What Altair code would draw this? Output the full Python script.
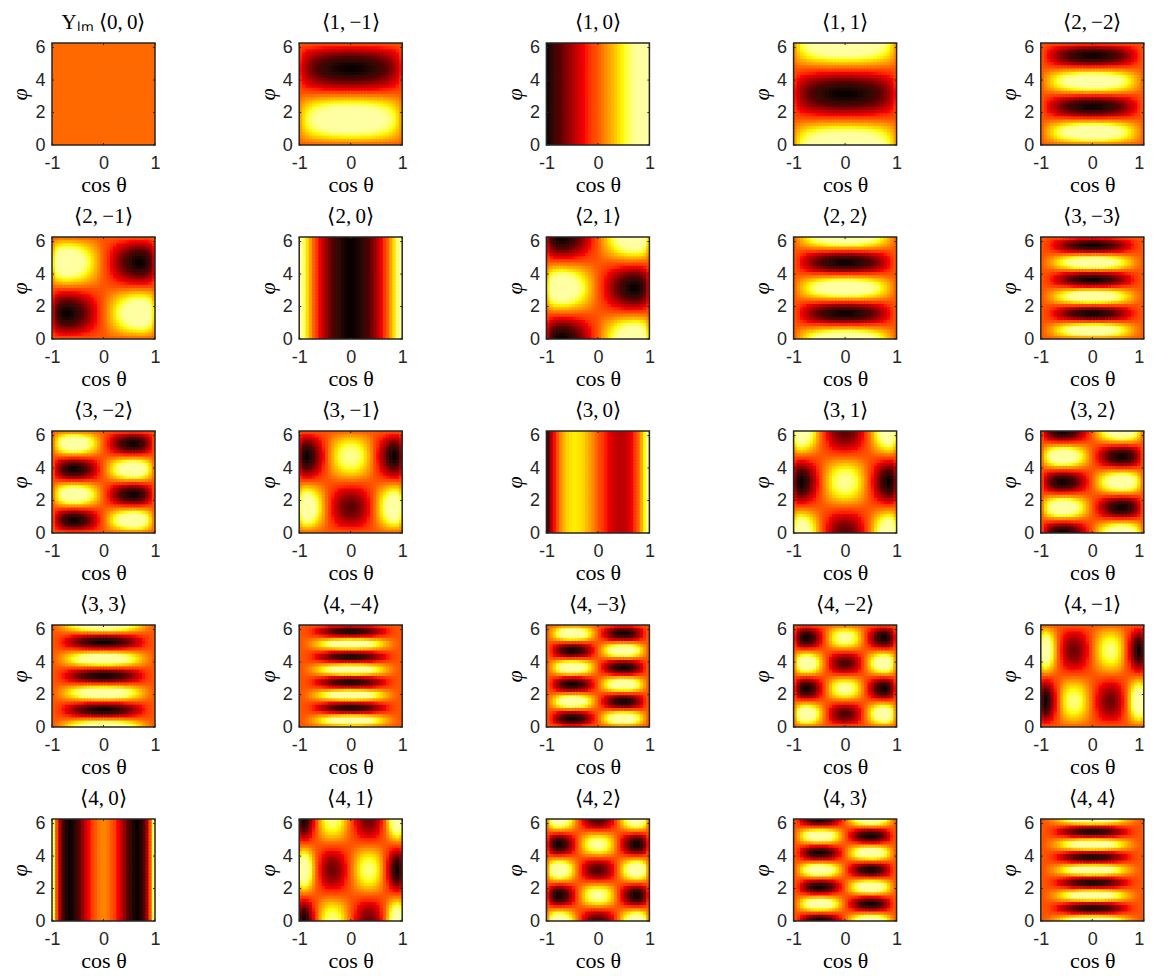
import altair as alt
import pandas as pd

alt.data_transformers.disable_max_rows()

# Panel order and labels
panels = [(0,0),(1,-1),(1,0),(1,1),(2,-2),(2,-1),(2,0),(2,1),(2,2),(3,-3),(3,-2),(3,-1),(3,0),
          (3,1),(3,2),(3,3),(4,-4),(4,-3),(4,-2),(4,-1),(4,0),(4,1),(4,2),(4,3),(4,4)]

# Estimated cos(theta) profiles, positive half (centre to edge), 16 cells, colour-normalised to [-1, 1]
theta_half = {
 (0,0): [.05]*16,
 (1,0): [.03,.09,.16,.22,.28,.34,.41,.47,.53,.59,.66,.72,.78,.84,.91,.97],
 (1,1): [1.0,1.0,.99,.98,.96,.94,.91,.88,.85,.80,.75,.70,.62,.54,.42,.25],
 (2,0): [-1.0,-.98,-.95,-.90,-.84,-.76,-.67,-.56,-.44,-.30,-.14,.03,.22,.42,.64,.88],
 (2,1): [.06,.19,.31,.43,.54,.65,.74,.83,.90,.96,.99,1.0,.98,.91,.77,.48],
 (2,2): [1.0,.99,.98,.95,.92,.88,.84,.78,.72,.65,.57,.48,.39,.29,.18,.06],
 (3,0): [-.05,-.14,-.22,-.30,-.37,-.41,-.44,-.45,-.42,-.37,-.28,-.15,.02,.24,.50,.82],
 (3,1): [-.72,-.69,-.63,-.54,-.42,-.28,-.12,.06,.25,.45,.63,.80,.93,1.0,.95,.66],
 (3,2): [.08,.24,.40,.54,.67,.79,.88,.95,.99,1.0,.97,.90,.79,.63,.42,.15],
 (3,3): [1.0,.99,.96,.93,.88,.83,.76,.69,.61,.52,.43,.34,.24,.15,.08,.02],
 (4,0): [.12,.08,.00,-.11,-.25,-.41,-.57,-.73,-.87,-.96,-1.0,-.95,-.80,-.51,-.06,.59],
 (4,1): [-.09,-.26,-.41,-.54,-.63,-.66,-.65,-.57,-.44,-.24,.01,.29,.59,.85,1.0,.81],
 (4,2): [-.77,-.72,-.63,-.49,-.32,-.12,.10,.33,.54,.74,.89,.98,.99,.89,.66,.27],
 (4,3): [.10,.28,.46,.63,.77,.88,.95,.99,.99,.95,.87,.74,.58,.40,.21,.05],
 (4,4): [1.0,.98,.95,.91,.85,.78,.70,.61,.52,.42,.32,.23,.15,.08,.03,.00],
}

# Estimated phi profiles, bottom to top, 32 cells
phi_profile = {
 0: [1.0]*32,
 1: [1.0,.96,.88,.77,.63,.47,.29,.10,-.10,-.29,-.47,-.63,-.77,-.88,-.96,-1.0,
     -1.0,-.96,-.88,-.77,-.63,-.47,-.29,-.10,.10,.29,.47,.63,.77,.88,.96,1.0],
 -1: [.10,.29,.47,.63,.77,.88,.96,1.0,1.0,.96,.88,.77,.63,.47,.29,.10,
      -.10,-.29,-.47,-.63,-.77,-.88,-.96,-1.0,-1.0,-.96,-.88,-.77,-.63,-.47,-.29,-.10],
 2: [.98,.83,.56,.20,-.20,-.56,-.83,-.98,-.98,-.83,-.56,-.20,.20,.56,.83,.98,
     .98,.83,.56,.20,-.20,-.56,-.83,-.98,-.98,-.83,-.56,-.20,.20,.56,.83,.98],
 -2: [.20,.56,.83,.98,.98,.83,.56,.20,-.20,-.56,-.83,-.98,-.98,-.83,-.56,-.20,
      .20,.56,.83,.98,.98,.83,.56,.20,-.20,-.56,-.83,-.98,-.98,-.83,-.56,-.20],
 3: [.96,.63,.10,-.47,-.88,-1.0,-.77,-.29,.29,.77,1.0,.88,.47,-.10,-.63,-.96,
     -.96,-.63,-.10,.47,.88,1.0,.77,.29,-.29,-.77,-1.0,-.88,-.47,.10,.63,.96],
 -3: [.29,.77,1.0,.88,.47,-.10,-.63,-.96,-.96,-.63,-.10,.47,.88,1.0,.77,.29,
      -.29,-.77,-1.0,-.88,-.47,.10,.63,.96,.96,.63,.10,-.47,-.88,-1.0,-.77,-.29],
 4: [.92,.38,-.38,-.92,-.92,-.38,.38,.92,.92,.38,-.38,-.92,-.92,-.38,.38,.92,
     .92,.38,-.38,-.92,-.92,-.38,.38,.92,.92,.38,-.38,-.92,-.92,-.38,.38,.92],
 -4: [.38,.92,.92,.38,-.38,-.92,-.92,-.38,.38,.92,.92,.38,-.38,-.92,-.92,-.38,
      .38,.92,.92,.38,-.38,-.92,-.92,-.38,.38,.92,.92,.38,-.38,-.92,-.92,-.38],
}

x_ticks = [-1, 0, 1]
y_ticks = [0, 2, 4, 6]
x_domain = [-1, 1]
y_domain = [0, 6.2832]
# Evenly spaced stops of the "hot" colour map
hot_colors = ["#0a0000", "#550000", "#aa0000", "#ff0000", "#ff5500", "#ffaa00", "#ffff00", "#ffffa0", "#ffffff"]

W, H = 103, 102
INK = "#262626"
N = 32


def full_theta(l, m):
    half = theta_half[(l, abs(m))]
    sign = -1 if (l + abs(m)) % 2 else 1
    return [sign * v for v in reversed(half)] + half


def table(l, m):
    prof_x = full_theta(l, m)
    prof_y = phi_profile[m]
    rows = []
    for i in range(N):
        for j in range(N):
            # each cell runs half a cell past its end; the next one paints over it, so no seams show
            rows.append({
                "a": -1 + 2 * i / N, "b": -1 + 2 * (i + 1.5) / N,
                "c": round(6.2832 * j / N, 4), "d": round(6.2832 * (j + 1.5) / N, 4),
                "v": round(prof_x[i] * prof_y[j], 3),
            })
    return pd.DataFrame(rows)


xs = alt.Scale(domain=x_domain, nice=False, zero=False)
ys = alt.Scale(domain=y_domain, nice=False, zero=False)
cs = alt.Scale(domain=[-1, 1], range=hot_colors, clamp=True)

axis_style = dict(labelExpr="'' + datum.value", grid=False, ticks=False, domain=False,
                  labelFont="Liberation Sans", labelFontSize=18, labelColor=INK, labelFlush=False,
                  labelOverlap=False, titleFont="Liberation Serif", titleFontSize=22,
                  titleFontWeight="normal", titleColor="black")
x_axis = alt.Axis(values=x_ticks, title="cos θ", labelPadding=9, titlePadding=2, **axis_style)
# In the last column the "1" ends at the plot edge so that it stays on the page
x_axis_last = alt.Axis(values=x_ticks, title="cos θ", labelPadding=9, titlePadding=2,
                       labelAlign=alt.ExprRef("datum.value == 1 ? 'right' : 'center'"), **axis_style)
y_axis = alt.Axis(values=y_ticks, title="φ", labelPadding=7, titlePadding=3, titleFontStyle="italic",
                  **axis_style)

one = pd.DataFrame({"k": [0]})
xt = pd.DataFrame({"t": x_ticks})
yt = pd.DataFrame({"t": y_ticks})


def panel(idx, l, m):
    label = f"⟨{l},\u2009{m}⟩".replace("-", "−")
    if (l, m) == (0, 0):
        label = "Yₗₘ  " + label
    xa = x_axis_last if idx % 5 == 4 else x_axis
    cells = alt.Chart(table(l, m)).mark_rect(clip=True).encode(
        x=alt.X("a:Q", scale=xs, axis=xa),
        x2="b:Q",
        y=alt.Y("c:Q", scale=ys, axis=y_axis),
        y2="d:Q",
        color=alt.Color("v:Q", scale=cs, legend=None),
    )
    frame = alt.Chart(one).mark_rect(filled=False, stroke=INK, strokeWidth=1.5).encode(
        x=alt.value(0), x2=alt.value(W), y=alt.value(0), y2=alt.value(H))
    bottom = alt.Chart(xt).mark_rule(color=INK, strokeWidth=1).encode(
        x=alt.X("t:Q", scale=xs, axis=xa), y=alt.value(H), y2=alt.value(H - 2))
    top = alt.Chart(xt).mark_rule(color=INK, strokeWidth=1).encode(
        x=alt.X("t:Q", scale=xs, axis=xa), y=alt.value(0), y2=alt.value(2))
    left = alt.Chart(yt).mark_rule(color=INK, strokeWidth=1).encode(
        y=alt.Y("t:Q", scale=ys, axis=y_axis), x=alt.value(0), x2=alt.value(2))
    right = alt.Chart(yt).mark_rule(color=INK, strokeWidth=1).encode(
        y=alt.Y("t:Q", scale=ys, axis=y_axis), x=alt.value(W), x2=alt.value(W - 2))
    return alt.layer(cells, frame, bottom, top, left, right).properties(
        width=W, height=H,
        title=alt.TitleParams(label, font="Liberation Serif", fontSize=21, fontWeight="normal",
                              color="black", offset=6, anchor="middle"))


chart = alt.concat(*[panel(i, l, m) for i, (l, m) in enumerate(panels)], columns=5,
                   spacing={"column": 144.2, "row": 92}, bounds="flush").properties(
    padding={"left": 0, "top": 3, "right": 0, "bottom": 0}
).configure_view(stroke=None)

chart.save("out.html", embed_options={"renderer": "svg", "actions": False})
